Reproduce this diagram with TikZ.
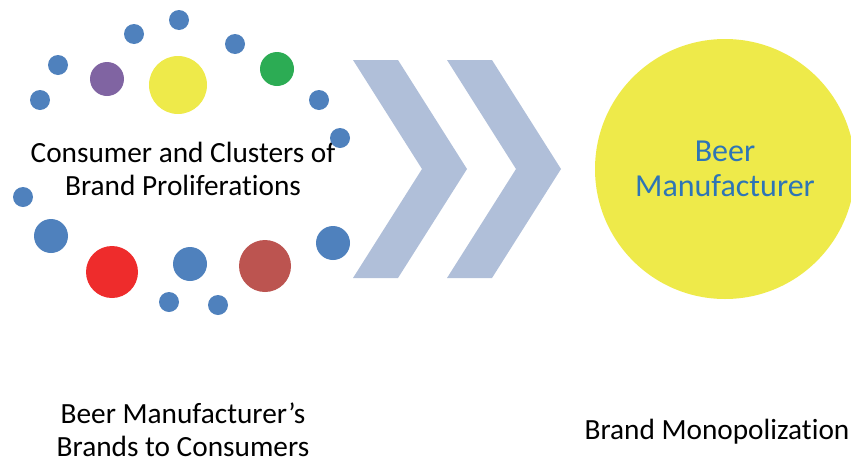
\documentclass[tikz,border=0pt]{standalone}
\usepackage{fontspec}
\setmainfont[Ligatures=NoCommon]{Carlito}
\usepackage{tikz}
\usepackage{xcolor}
\usetikzlibrary{positioning}
\definecolor{dotblue}{RGB}{79,129,189}
\definecolor{dotpurple}{RGB}{128,100,162}
\definecolor{dotyellow}{RGB}{238,234,74}
\definecolor{dotgreen}{RGB}{44,172,84}
\definecolor{dotred}{RGB}{238,44,44}
\definecolor{dotmaroon}{RGB}{188,84,80}
\definecolor{chevroncolor}{RGB}{176,191,217}
\definecolor{labelblue}{RGB}{46,117,182}
\tikzstyle{dot} = [circle, fill=dotblue, inner sep=0pt, minimum size=20pt]
\tikzstyle{middot} = [dot, minimum size=34pt]
\tikzstyle{bigdot} = [dot, minimum size=52pt]
\tikzstyle{caption} = [align=center, inner sep=1pt, font=\fontsize{29.3}{32.5}\selectfont]

\begin{document}
\begin{tikzpicture}[x=1pt, y=-1pt]
\useasboundingbox (0,0) rectangle (851,461);

% Cluster caption
\node[caption] (cluster) at (183,169) {Consumer and Clusters of\\Brand Proliferations};

% Brand dots round the cluster
\node[dot] (d1) at (179,20) {};
\node[dot] (d2) at (134,34) {};
\node[dot] (d3) at (58,65) {};
\node[dot] (d4) at (40,100) {};
\node[dot] (d5) at (235,44) {};
\node[dot] (d6) at (319,100) {};
\node[dot] (d7) at (340,138) {};
\node[dot] (d8) at (23,197) {};
\node[dot] (d9) at (169,302) {};
\node[dot] (d10) at (218,305) {};
\node[middot, fill=dotpurple] (purple) at (107,79) {};
\node[dot, minimum size=58pt, fill=dotyellow] (yellow) at (178,85) {};
\node[middot, fill=dotgreen] (green) at (277,69) {};
\node[middot] (m1) at (51,236) {};
\node[middot] (m2) at (190,264) {};
\node[middot] (m3) at (333,243) {};
\node[bigdot, fill=dotred] (red) at (112,272) {};
\node[bigdot, fill=dotmaroon] (maroon) at (265,266) {};

% Chevrons
\foreach \dx in {0,94} {
  \fill[chevroncolor, shift={(\dx,0)}] (353,60) -- (398,60) -- (467,169) -- (398,278) -- (353,278) -- (422,169) -- cycle;
}

% Manufacturer
\node[circle, fill=dotyellow, minimum size=260pt, inner sep=0pt] (maker) at (725,169) {};
\node[align=center, text=labelblue, font=\fontsize{32}{35}\selectfont] (makerlabel) at (maker.center) {Beer\\Manufacturer};

% Bottom captions
\node[caption] (brands) at (183,430) {Beer Manufacturer’s\\Brands to Consumers};
\node[caption] (mono) at (717,432) {Brand Monopolization};

\end{tikzpicture}
\end{document}
